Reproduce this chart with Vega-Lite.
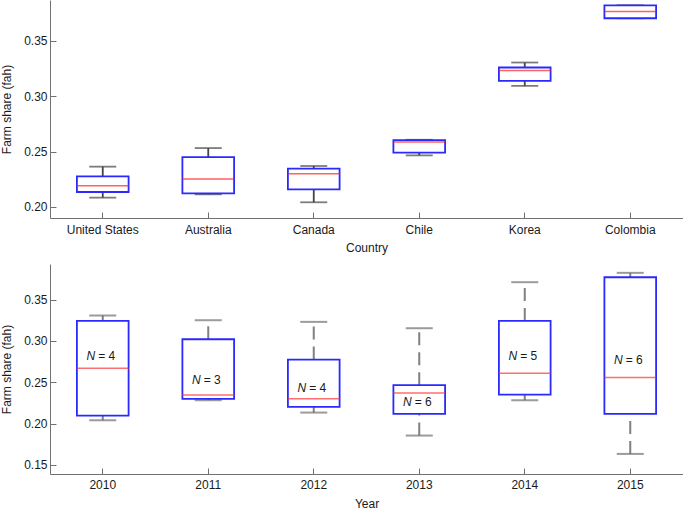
{
  "$schema": "https://vega.github.io/schema/vega-lite/v6.json",
  "padding": 0,
  "autosize": {"type": "pad"},
  "background": "white",
  "config": {
    "view": {"stroke": null},
    "font": "Liberation Sans",
    "concat": {"spacing": 11},
    "axis": {
      "domainColor": "#707070",
      "tickColor": "#707070",
      "tickSize": -6,
      "grid": false,
      "labelFont": "Liberation Sans",
      "labelFontSize": 12,
      "labelColor": "#1a1a1a",
      "titleFont": "Liberation Sans",
      "titleFontSize": 12,
      "titleFontWeight": "normal",
      "titleColor": "#1a1a1a"
    },
    "axisX": {"labelPadding": 12, "titlePadding": 7, "labelAngle": 0},
    "axisY": {"labelPadding": 9, "titlePadding": 10}
  },
  "datasets": {
    "country": [
      {"country": "United States", "lower": 0.2084, "q1": 0.2135, "median": 0.2192, "q3": 0.2276, "upper": 0.2364},
      {"country": "Australia", "lower": 0.2114, "q1": 0.2123, "median": 0.2253, "q3": 0.2451, "upper": 0.2532},
      {"country": "Canada", "lower": 0.2042, "q1": 0.2159, "median": 0.2301, "q3": 0.2346, "upper": 0.2370},
      {"country": "Chile", "lower": 0.2466, "q1": 0.2490, "median": 0.2586, "q3": 0.2604, "upper": 0.2607},
      {"country": "Korea", "lower": 0.3094, "q1": 0.3139, "median": 0.3233, "q3": 0.3260, "upper": 0.3305},
      {"country": "Colombia", "lower": 0.3705, "q1": 0.3705, "median": 0.3765, "q3": 0.3822, "upper": 0.3822}
    ],
    "year": [
      {"year": "2010", "lower": 0.2040, "q1": 0.2097, "median": 0.2669, "q3": 0.3242, "upper": 0.3307, "labelY": 0.2814, "n": "= 4"},
      {"year": "2011", "lower": 0.2282, "q1": 0.2299, "median": 0.2347, "q3": 0.3020, "upper": 0.3250, "labelY": 0.2532, "n": "= 3"},
      {"year": "2012", "lower": 0.2133, "q1": 0.2202, "median": 0.2299, "q3": 0.2774, "upper": 0.3230, "labelY": 0.2436, "n": "= 4"},
      {"year": "2013", "lower": 0.1855, "q1": 0.2117, "median": 0.2371, "q3": 0.2464, "upper": 0.3153, "labelY": 0.2266, "n": "= 6"},
      {"year": "2014", "lower": 0.2282, "q1": 0.2351, "median": 0.2609, "q3": 0.3242, "upper": 0.3710, "labelY": 0.2819, "n": "= 5"},
      {"year": "2015", "lower": 0.1633, "q1": 0.2117, "median": 0.2556, "q3": 0.3770, "upper": 0.3823, "labelY": 0.2774, "n": "= 6"}
    ]
  },
  "vconcat": [
    {
      "width": 633,
      "height": 218,
      "data": {"name": "country"},
      "encoding": {
        "x": {
          "field": "country", "type": "nominal", "sort": null, "title": "Country",
          "scale": {"paddingInner": 0, "paddingOuter": 0}
        }
      },
      "layer": [
        {
          "mark": {"type": "rule", "color": "#454545", "strokeWidth": 1.8},
          "encoding": {
            "y": {"field": "lower", "type": "quantitative",
              "scale": {"domain": [0.19, 0.387], "nice": false, "zero": false},
              "axis": {"values": [0.2, 0.25, 0.3, 0.35], "format": ".2f"},
              "title": "Farm share (fah)"},
            "y2": {"field": "upper"}
          }
        },
        {
          "mark": {"type": "tick", "color": "#454545", "size": 27, "thickness": 1.8},
          "encoding": {"y": {"field": "upper", "type": "quantitative"}}
        },
        {
          "mark": {"type": "tick", "color": "#454545", "size": 27, "thickness": 1.8},
          "encoding": {"y": {"field": "lower", "type": "quantitative"}}
        },
        {
          "mark": {"type": "bar", "fill": "white", "stroke": "#2a2aff", "strokeWidth": 1.8, "width": {"band": 0.49}},
          "encoding": {
            "y": {"field": "q1", "type": "quantitative"},
            "y2": {"field": "q3"}
          }
        },
        {
          "mark": {"type": "tick", "color": "#ff2020", "size": 52, "thickness": 1.5},
          "encoding": {"y": {"field": "median", "type": "quantitative"}}
        }
      ]
    },
    {
      "width": 633,
      "height": 210,
      "data": {"name": "year"},
      "encoding": {
        "x": {
          "field": "year", "type": "nominal", "sort": null, "title": "Year",
          "scale": {"paddingInner": 0, "paddingOuter": 0},
          "axis": {"labelPadding": 11, "titlePadding": 8}
        }
      },
      "layer": [
        {
          "mark": {"type": "rule", "color": "#808080", "strokeWidth": 2, "strokeDash": [13, 7]},
          "encoding": {
            "y": {"field": "lower", "type": "quantitative",
              "scale": {"domain": [0.139, 0.393], "nice": false, "zero": false},
              "axis": {"values": [0.15, 0.2, 0.25, 0.3, 0.35], "format": ".2f"},
              "title": "Farm share (fah)"},
            "y2": {"field": "q1"}
          }
        },
        {
          "mark": {"type": "rule", "color": "#808080", "strokeWidth": 2, "strokeDash": [13, 7]},
          "encoding": {
            "y": {"field": "q3", "type": "quantitative"},
            "y2": {"field": "upper"}
          }
        },
        {
          "mark": {"type": "tick", "color": "#707070", "size": 27, "thickness": 2},
          "encoding": {"y": {"field": "upper", "type": "quantitative"}}
        },
        {
          "mark": {"type": "tick", "color": "#707070", "size": 27, "thickness": 2},
          "encoding": {"y": {"field": "lower", "type": "quantitative"}}
        },
        {
          "mark": {"type": "bar", "fill": "white", "stroke": "#2a2aff", "strokeWidth": 1.8, "width": {"band": 0.49}},
          "encoding": {
            "y": {"field": "q1", "type": "quantitative"},
            "y2": {"field": "q3"}
          }
        },
        {
          "mark": {"type": "tick", "color": "#ff3030", "size": 52, "thickness": 1.5},
          "encoding": {"y": {"field": "median", "type": "quantitative"}}
        },
        {
          "mark": {"type": "text", "text": "N", "fontStyle": "italic", "fontSize": 12, "align": "right", "dx": -7.5, "color": "#1a1a1a", "font": "Liberation Sans"},
          "encoding": {"y": {"field": "labelY", "type": "quantitative"}}
        },
        {
          "mark": {"type": "text", "fontSize": 12, "align": "left", "dx": -4.5, "color": "#1a1a1a", "font": "Liberation Sans"},
          "encoding": {
            "y": {"field": "labelY", "type": "quantitative"},
            "text": {"field": "n"}
          }
        }
      ]
    }
  ]
}
